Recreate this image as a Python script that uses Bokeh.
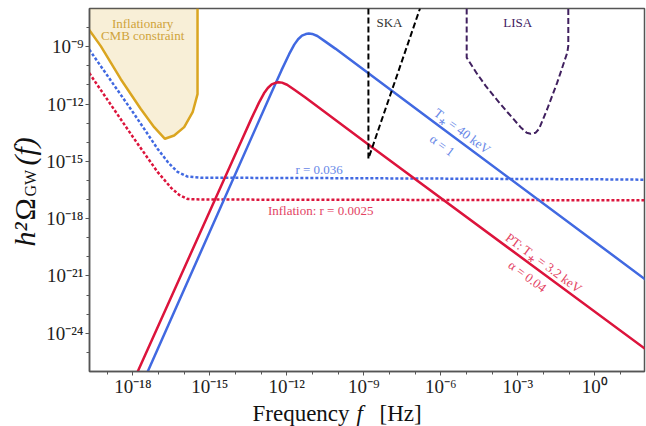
import math
from bokeh.plotting import figure
from bokeh.layouts import row, column
from bokeh.models import FixedTicker, CustomJSTickFormatter, Label
from bokeh.embed import file_html
from bokeh.resources import INLINE

# ---------------- data (log10 f [Hz], log10 h^2 Omega_GW) ----------------
pt_blue_logf = [-17.42, -12.61, -12.21, -11.91, -11.71, -11.56, -11.41, -11.26, -11.14,
                -11.01, -10.81, -10.51, -10.11, -6.0, 2.0]
pt_blue_logO = [-26.0, -11.44, -10.24, -9.39, -8.89, -8.61, -8.42, -8.34, -8.31,
                -8.33, -8.44, -8.72, -9.10, -13.21, -21.21]

pt_red_logf = [-17.81, -13.79, -13.39, -13.09, -12.89, -12.74, -12.59, -12.44, -12.32,
               -12.19, -11.99, -11.69, -11.29, -8.6, 2.0]
pt_red_logO = [-26.0, -13.99, -12.79, -11.94, -11.44, -11.16, -10.97, -10.89, -10.86,
               -10.88, -10.99, -11.27, -11.65, -14.34, -24.85]

inf_blue_logf = [-19.7, -17.95, -17.04, -16.6, -16.26, -15.87, -15.3, -14.57, -10.0, -5.0, 0.0, 2.0]
inf_blue_logO = [-9.15, -12.52, -14.34, -15.1, -15.55, -15.8, -15.86, -15.86, -15.88, -15.91, -15.94, -15.96]

inf_red_logf = [-19.7, -17.95, -17.04, -16.5, -16.2, -15.87, -15.3, -10.0, 2.0]
inf_red_logO = [-10.38, -13.82, -15.55, -16.4, -16.75, -16.97, -17.0, -17.01, -17.04]

cmb_logf = [-19.7, -19.25, -18.47, -17.69, -17.17, -16.75, -16.39, -16.0, -15.67, -15.48, -15.48]
cmb_logO = [-8.12, -8.97, -10.70, -12.26, -13.21, -13.82, -13.65, -13.21, -12.43, -11.48, -7.0]

ska_logf = [-8.82, -8.82, -6.81]
ska_logO = [-7.0, -14.86, -7.0]

lisa_logf = [-4.99, -4.99, -4.62, -4.25, -3.80, -3.40, -2.89, -2.65, -2.50, -2.30, -2.17,
             -1.85, -1.46, -1.07, -1.03, -1.03]
lisa_logO = [-7.0, -9.57, -10.35, -11.05, -11.8, -12.43, -13.21, -13.5, -13.56, -13.5, -13.30,
             -12.26, -10.87, -9.31, -8.96, -7.0]

x_major_exp = [-18, -15, -12, -9, -6, -3, 0]
x_minor_exp = list(range(-19, 2))
y_major_exp = [-24, -21, -18, -15, -12, -9]
y_minor_exp = list(range(-25, -7))

x_lim_exp = (-19.69, 1.94)
y_lim_exp = (-26.0, -7.0)

# ---------------- styling ----------------
BLUE = "#4169E1"
RED = "#DC143C"
GOLD = "#DAA520"
LISA_C = "#40205f"
BLUE_TXT = "#6787e7"
RED_TXT = "#e34363"
GOLD_TXT = "#cfa33a"
AXIS_C = "#555555"
SERIF = "Liberation Serif"


def P(v):
    return [10.0 ** e for e in v]


def no_align(fig):
    try:
        fig.frame_align = False
    except AttributeError:
        pass


p = figure(width=604, height=399, x_axis_type="log", y_axis_type="log",
           x_range=(10 ** x_lim_exp[0], 10 ** x_lim_exp[1]),
           y_range=(10 ** y_lim_exp[0], 10 ** y_lim_exp[1]),
           output_backend="svg", toolbar_location=None,
           min_border_left=47, min_border_right=2, min_border_top=8, min_border_bottom=26)
no_align(p)

p.xgrid.visible = False
p.ygrid.visible = False
p.outline_line_color = AXIS_C
p.outline_line_width = 1.5

fmt = CustomJSTickFormatter(code="""
const sup = {'-':'\u207b','0':'\u2070','1':'\u00b9','2':'\u00b2','3':'\u00b3','4':'\u2074',
             '5':'\u2075','6':'\u2076','7':'\u2077','8':'\u2078','9':'\u2079'};
const e = Math.round(Math.log10(tick));
return '10' + String(e).split('').map(c => sup[c]).join('');
""")

p.xaxis.ticker = FixedTicker(ticks=P(x_major_exp), minor_ticks=P(x_minor_exp))
p.yaxis.ticker = FixedTicker(ticks=P(y_major_exp), minor_ticks=P(y_minor_exp))
for ax in (p.xaxis, p.yaxis):
    ax.formatter = fmt
    ax.axis_line_color = AXIS_C
    ax.axis_line_width = 1.5
    ax.major_tick_line_color = AXIS_C
    ax.minor_tick_line_color = AXIS_C
    ax.major_tick_out = 4
    ax.major_tick_in = 0
    ax.minor_tick_out = 3
    ax.minor_tick_in = 0
    ax.major_label_text_font = SERIF
    ax.major_label_text_font_size = "19px"
    ax.major_label_text_color = "#222222"
    ax.major_label_standoff = 2
    ax.axis_label = None
p.xaxis.major_label_standoff = 0

# inflationary CMB constraint
p.patch(x=[10 ** cmb_logf[0]] + P(cmb_logf), y=[10 ** y_lim_exp[1]] + P(cmb_logO),
        fill_color=GOLD, fill_alpha=0.18, line_color=None)
p.line(P(cmb_logf), P(cmb_logO), line_color=GOLD, line_width=2.5)

# inflation dotted curves
p.line(P(inf_blue_logf), P(inf_blue_logO), line_color=BLUE, line_width=2.5, line_dash="3 2")
p.line(P(inf_red_logf), P(inf_red_logO), line_color=RED, line_width=2.5, line_dash="3 2")

# phase-transition spectra
p.line(P(pt_blue_logf), P(pt_blue_logO), line_color=BLUE, line_width=2.5)
p.line(P(pt_red_logf), P(pt_red_logO), line_color=RED, line_width=2.5)

# sensitivity curves
p.line(P(ska_logf), P(ska_logO), line_color="black", line_width=2, line_dash="6 3")
p.line(P(lisa_logf), P(lisa_logO), line_color=LISA_C, line_width=2, line_dash="6 3")


def tlabel(txt, lf, lo, color, size, angle=0.0, style="normal"):
    p.add_layout(Label(x=10 ** lf, y=10 ** lo, text=txt, text_color=color,
                       text_font=SERIF, text_font_size=size, text_font_style=style,
                       text_align="center", text_baseline="middle", angle=angle))


tlabel("Inflationary", -17.62, -7.79, GOLD_TXT, "13px")
tlabel("CMB constraint", -17.62, -8.39, GOLD_TXT, "13px")
tlabel("SKA", -8.0, -7.75, "#333333", "13px")
tlabel("LISA", -3.0, -7.71, LISA_C, "13px")
tlabel("r = 0.036", -10.74, -15.42, BLUE_TXT, "13px")
tlabel("Inflation: r = 0.0025", -10.68, -17.55, RED_TXT, "13px")
ang_b = -math.atan(0.748)
ang_r = -math.atan(0.736)
tlabel("T\u204e = 40 keV", -5.16, -13.42, BLUE_TXT, "13px", ang_b)
tlabel("\u03b1 = 1", -5.94, -14.16, BLUE_TXT, "13px", ang_b)
tlabel("PT: T\u204e = 3.2 keV", -1.98, -20.32, RED_TXT, "13px", ang_r)
tlabel("\u03b1 = 0.04", -2.62, -21.02, RED_TXT, "13px", ang_r)


# ---------------- axis titles in their own blank panels ----------------
def blank(w, h):
    f = figure(width=w, height=h, x_range=(0, 1), y_range=(0, 1),
               x_axis_location=None, y_axis_location=None, min_border=0,
               output_backend="svg", toolbar_location=None)
    f.xgrid.visible = False
    f.ygrid.visible = False
    f.outline_line_color = None
    no_align(f)
    return f


def slabel(fig, txt, x, y, size, style="normal", angle=0.0):
    fig.add_layout(Label(x=x, y=y, x_units="screen", y_units="screen", text=txt,
                         text_color="#111111", text_font=SERIF, text_font_size=size,
                         text_font_style=style, text_align="left",
                         text_baseline="middle", angle=angle))


ylab = blank(42, 426)
half_pi = math.pi / 2
slabel(ylab, "h\u00b2", 24, 180, "30px", "italic", half_pi)
slabel(ylab, "\u03a9", 24, 206, "30px", "normal", half_pi)
slabel(ylab, "GW", 30, 230, "16px", "normal", half_pi)
slabel(ylab, "(f)", 24, 261, "30px", "italic", half_pi)

xlab = blank(604, 27)
slabel(xlab, "Frequency", 210, 13.5, "23px")
slabel(xlab, "f", 314, 13.5, "23px", "italic")
slabel(xlab, "[Hz]", 337, 13.5, "23px")

layout = row(ylab, column(p, xlab))

open("out.html", "w").write(file_html(layout, INLINE))
